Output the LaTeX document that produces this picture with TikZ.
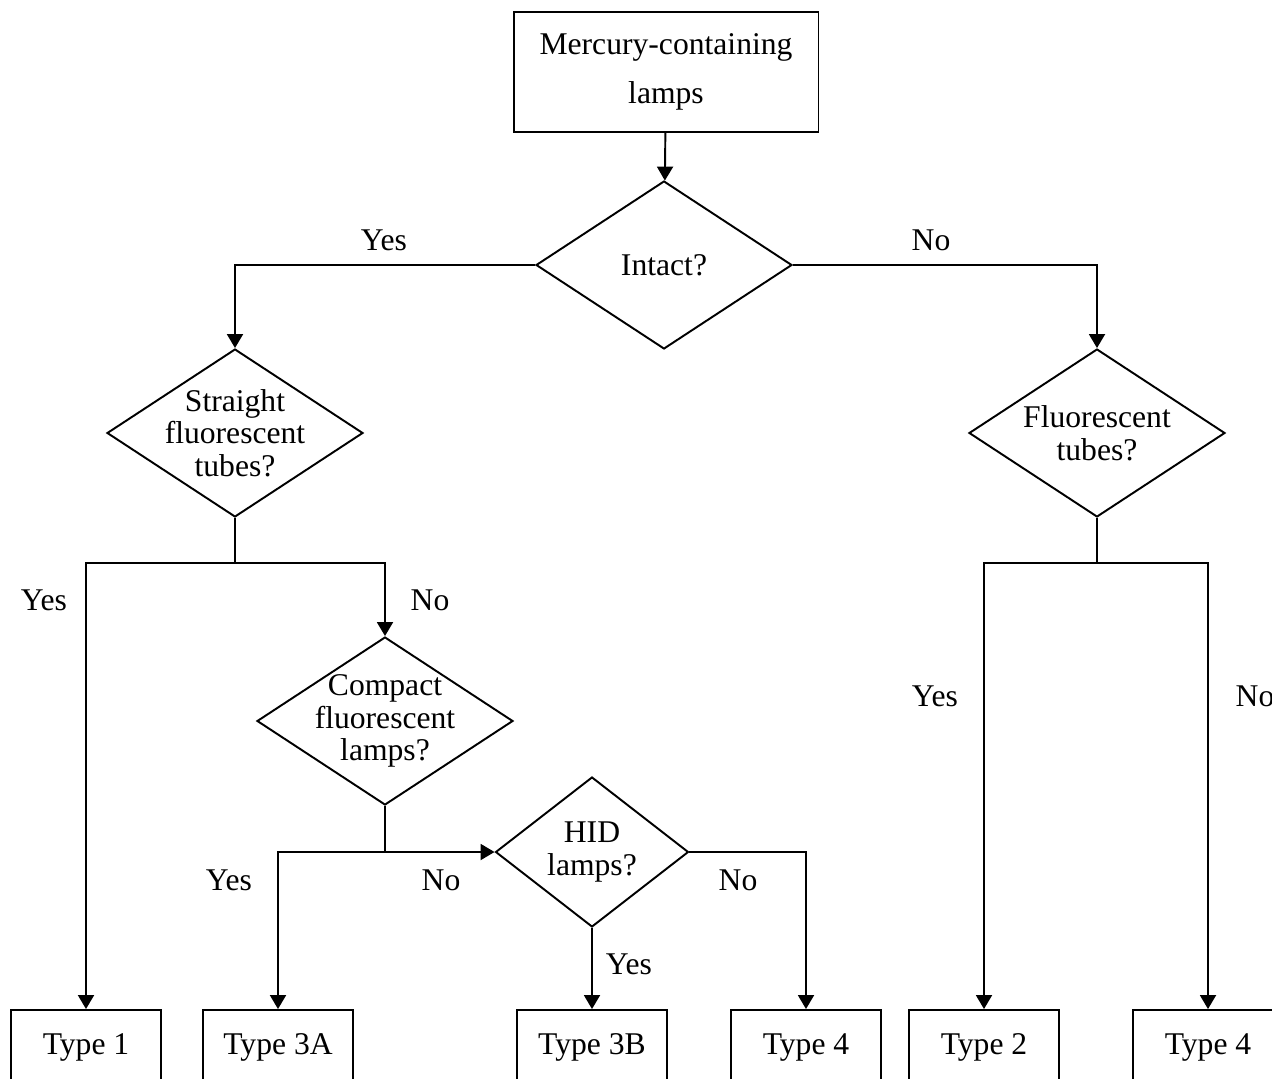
\documentclass[tikz,border=0pt]{standalone}
\usepackage{fontspec}
\setmainfont{Liberation Serif}
\usetikzlibrary{shapes.geometric, arrows.meta}
\tikzstyle{arrow} = [line width=1.1pt,-{Triangle[length=2.8mm,width=3.2mm]}]
\tikzset{decision/.style={diamond,draw,line width=1.1pt,minimum width=5.12cm,minimum height=3.36cm,inner sep=-5mm,align=center,font=\fontsize{18}{18.5}\selectfont},
    block/.style={rectangle,draw,line width=1.1pt,minimum width=3cm,minimum height=1.48cm,font=\fontsize{18}{22}\selectfont},
    answer/.style={font=\fontsize{18}{22}\selectfont,inner sep=0pt}}

\begin{document}
\begin{tikzpicture}[x=0.02cm, y=-0.02cm]
    \clip (0,0) rectangle (1272,1079);

    \node [block, minimum width=6.1cm, minimum height=2.4cm, align=center, font=\fontsize{18}{28}\selectfont] (lamps) at (666,72) {Mercury-containing\\lamps};
    \node [decision] (intact) at (664,265) {Intact?};

    \node [decision] (straight) at (235,433) {Straight\\fluorescent\\tubes?};
    \node [decision] (fluor) at (1097,433) {Fluorescent\\tubes?};
    \node [decision] (compact) at (385,721) {Compact\\fluorescent\\lamps?};
    \node [decision, minimum width=3.86cm, minimum height=3cm] (hid) at (592,852) {HID\\lamps?};

    \node [block] (type1) at (86,1047) {Type 1};
    \node [block] (type3a) at (278,1047) {Type 3A};
    \node [block] (type3b) at (592,1047) {Type 3B};
    \node [block] (type4a) at (806,1047) {Type 4};
    \node [block] (type2) at (984,1047) {Type 2};
    \node [block] (type4b) at (1208,1047) {Type 4};

    \coordinate (sjoin) at (235,563);
    \coordinate (cjoin) at (385,852);
    \coordinate (fjoin) at (1097,563);

    \draw [arrow] (lamps) -- (intact);
    \draw [arrow] (intact.west) -| (straight.north);
    \draw [arrow] (intact.east) -| (fluor.north);

    \draw [line width=1.1pt] (straight.south) -- (sjoin);
    \draw [arrow] (sjoin) -| (type1.north);
    \draw [arrow] (sjoin) -| (compact.north);

    \draw [line width=1.1pt] (compact.south) -- (cjoin);
    \draw [arrow] (cjoin) -| (type3a.north);
    \draw [arrow] (cjoin) -- (hid.west);
    \draw [arrow] (hid.south) -- (type3b.north);
    \draw [arrow] (hid.east) -| (type4a.north);

    \draw [line width=1.1pt] (fluor.south) -- (fjoin);
    \draw [arrow] (fjoin) -| (type2.north);
    \draw [arrow] (fjoin) -| (type4b.north);

    % answers
    \node [answer] (yes1) at (384,240) {Yes};
    \node [answer] (no1) at (931,240) {No};
    \node [answer] (yes2) at (44,600) {Yes};
    \node [answer] (no2) at (430,600) {No};
    \node [answer] (yes3) at (229,880) {Yes};
    \node [answer] (no3) at (441,880) {No};
    \node [answer] (yes4) at (629,964) {Yes};
    \node [answer] (no4) at (738,880) {No};
    \node [answer] (yes5) at (935,696) {Yes};
    \node [answer] (no5) at (1255,696) {No};
\end{tikzpicture}
\end{document}
